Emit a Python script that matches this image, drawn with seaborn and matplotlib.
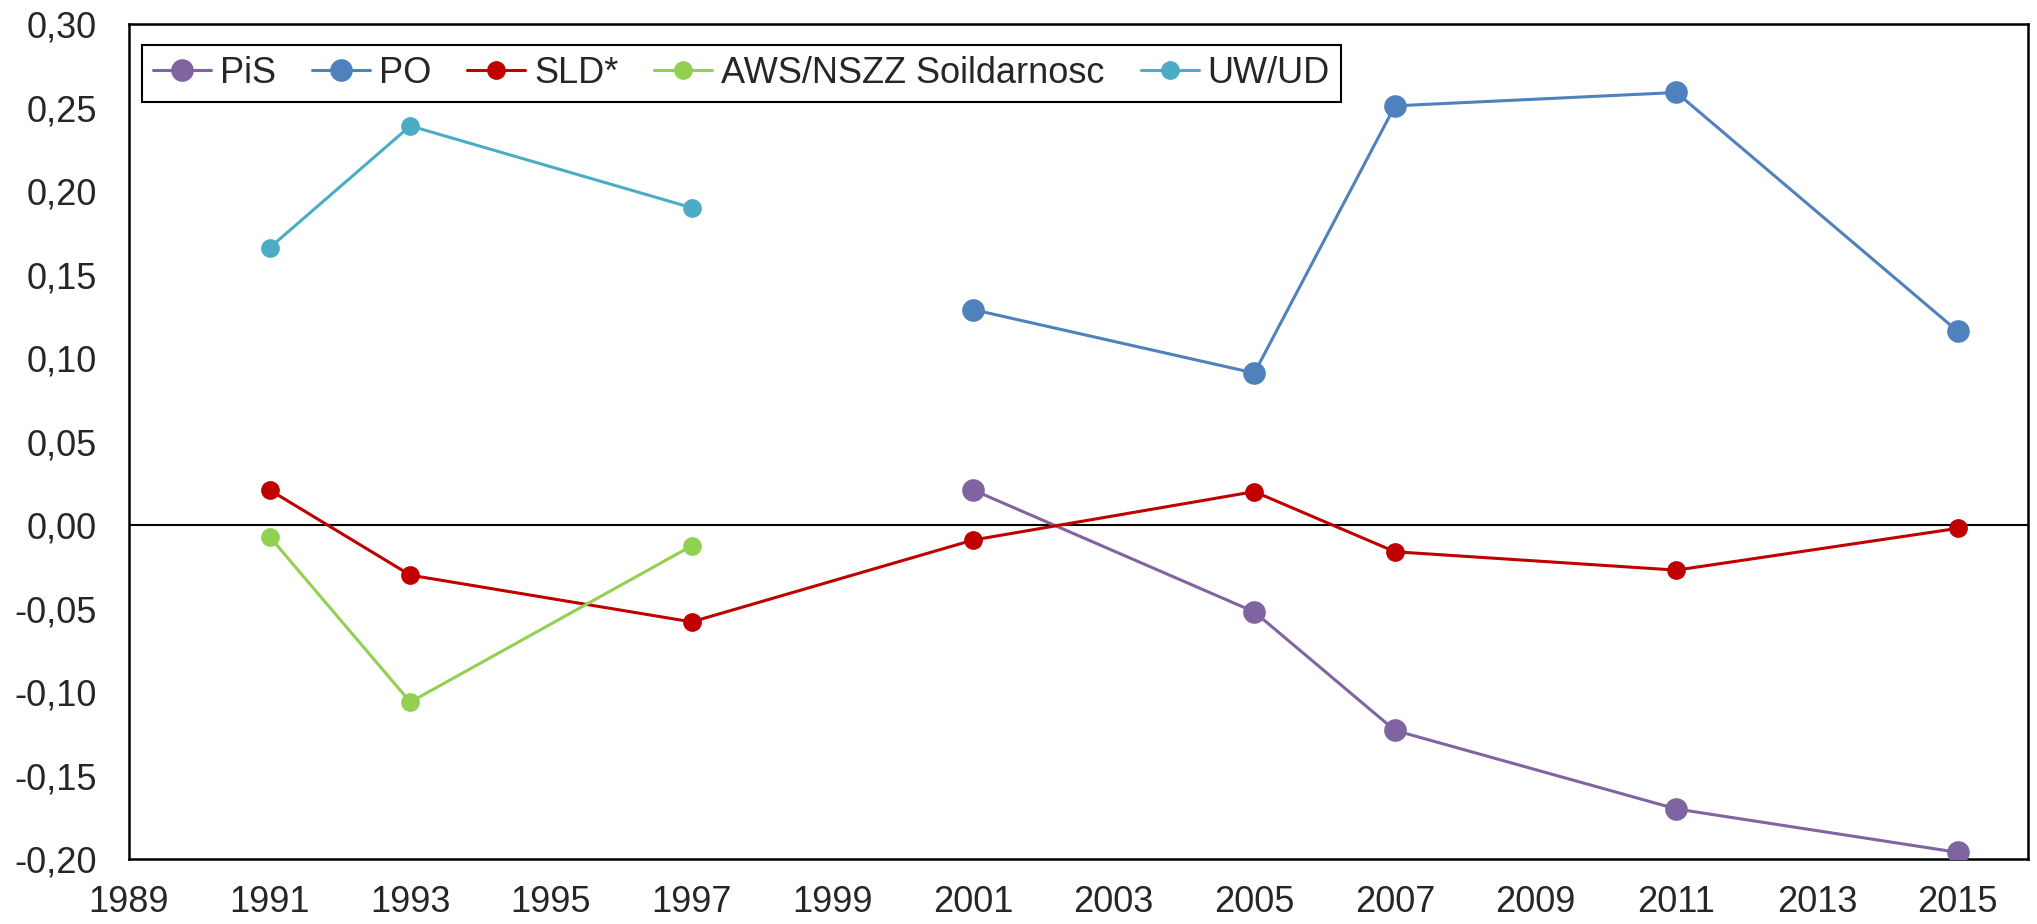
import numpy as np
import matplotlib
matplotlib.use("Agg")
import matplotlib.pyplot as plt
import pandas as pd
import seaborn as sns

# values
pis_years = [2001, 2005, 2007, 2011, 2015]
pis_vals = [0.021, -0.052, -0.123, -0.170, -0.196]

po_years = [2001, 2005, 2007, 2011, 2015]
po_vals = [0.129, 0.091, 0.251, 0.259, 0.116]

sld_years = [1991, 1993, 1997, 2001, 2005, 2007, 2011, 2015]
sld_vals = [0.021, -0.030, -0.058, -0.009, 0.020, -0.016, -0.027, -0.002]

aws_years = [1991, 1993, 1997]
aws_vals = [-0.007, -0.106, -0.0125]

uw_years = [1991, 1993, 1997]
uw_vals = [0.166, 0.239, 0.190]

x_ticks = list(range(1989, 2016, 2))
y_ticks = [-0.20, -0.15, -0.10, -0.05, 0.00, 0.05, 0.10, 0.15, 0.20, 0.25, 0.30]

series = [
    ("PiS", pis_years, pis_vals, "#8064A2", 16.3),
    ("PO", po_years, po_vals, "#4F81BD", 16.3),
    ("SLD*", sld_years, sld_vals, "#C00000", 13.5),
    ("AWS/NSZZ Soildarnosc", aws_years, aws_vals, "#92D050", 13.5),
    ("UW/UD", uw_years, uw_vals, "#4BACC6", 13.5),
]

sns.set_style("white")
plt.rcParams['font.family'] = ['Liberation Sans', 'DejaVu Sans']

fig = plt.figure(figsize=(20.37, 9.24), dpi=100)
ax = fig.add_axes([0.0633, 0.0703, 0.9323, 0.9037])

ax.axhline(0, color="black", lw=1.5, zorder=1)

for name, yrs, vals, col, ms in series:
    df = pd.DataFrame({"year": yrs, "value": vals})
    sns.lineplot(data=df, x="year", y="value", ax=ax, color=col, lw=2.2,
                 marker="o", markersize=ms, markeredgewidth=0, label=name, zorder=3)

ax.set_xlim(1989, 2016)
ax.set_ylim(-0.20, 0.30)
ax.set_xticks(x_ticks)
ax.set_yticks(y_ticks)
ax.set_xticklabels([str(t) for t in x_ticks])
ax.set_yticklabels([f"{t:.2f}".replace(".", ",") for t in y_ticks])
ax.tick_params(axis="x", labelsize=26, length=0, pad=19)
ax.tick_params(axis="y", labelsize=26, length=0, pad=23)
ax.set_xlabel("")
ax.set_ylabel("")

for s in ax.spines.values():
    s.set_color("black")
    s.set_linewidth(1.8)

leg = ax.legend(loc="upper left", ncol=5, fontsize=26, frameon=True, fancybox=False,
                edgecolor="black", framealpha=1, handlelength=1.6, handletextpad=0.25,
                columnspacing=1.0, borderpad=0.3, borderaxespad=0,
                bbox_to_anchor=(0.007, 0.975))
leg.get_frame().set_linewidth(1.5)

fig.savefig("out.png", dpi=100)
